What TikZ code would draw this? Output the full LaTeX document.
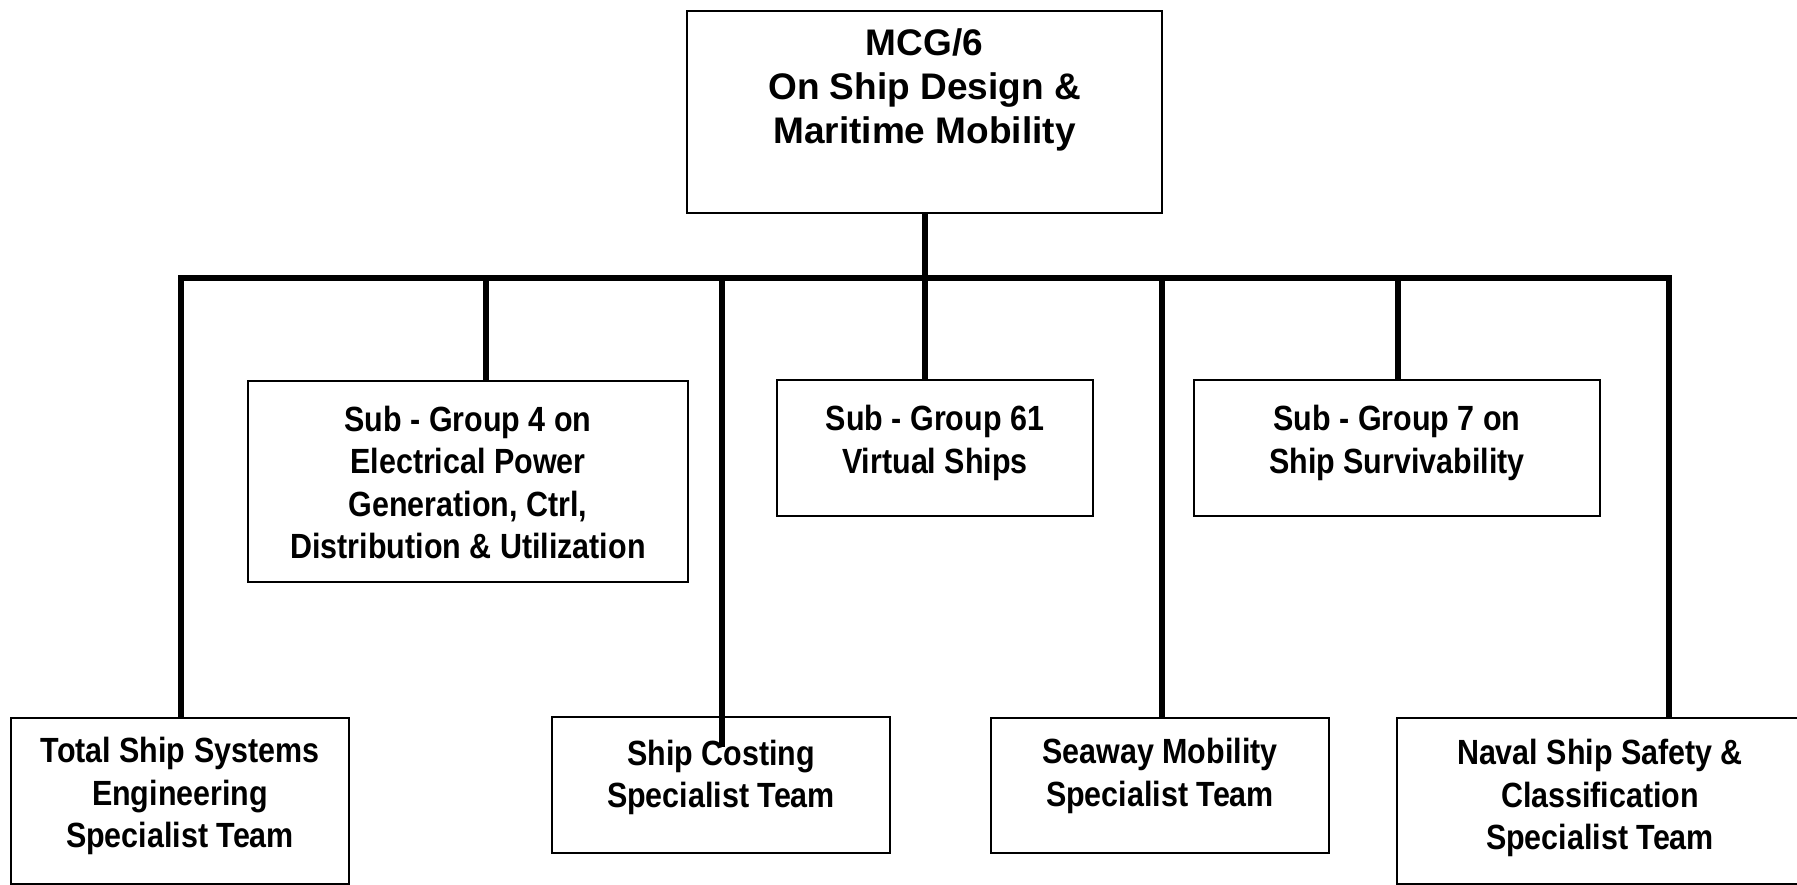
\documentclass[tikz,border=0pt]{standalone}
\usepackage{fontspec}
\setmainfont{Liberation Sans}
\newfontfamily\nbf{Liberation Sans}[FakeStretch=0.87]
\newcommand\boxtxt[4]{\parbox[c][#2][t]{#1}{\centering\vspace*{#3}\strut #4}}
\tikzset{
  box/.style={draw=black, line width=2.5pt, inner sep=0pt, outer sep=0pt},
  topfont/.style={font=\bfseries\fontsize{37}{44}\selectfont},
  subfont/.style={font=\nbf\bfseries\fontsize{35}{42.5}\selectfont},
  conn/.style={draw=black, line width=5.5pt, line join=miter},
}
\begin{document}
\begin{tikzpicture}[x=1pt, y=-1pt]
\useasboundingbox[fill=white] (0,0) rectangle (1797,885);
% boxes
\node[box, topfont] (top) at (924.5,112) {\boxtxt{475pt}{202pt}{14.2pt}{MCG/6\\On Ship Design \&\\Maritime Mobility}};
\node[box, subfont] (sg4) at (468,481.5) {\boxtxt{440pt}{201pt}{20.25pt}{Sub - Group 4 on\\Electrical Power\\Generation, Ctrl,\\Distribution \& Utilization}};
\node[box, subfont] (sg61) at (935,448) {\boxtxt{316pt}{136pt}{21pt}{Sub - Group 61\\Virtual Ships}};
\node[box, subfont] (sg7) at (1397,448) {\boxtxt{406pt}{136pt}{21pt}{Sub - Group 7 on\\Ship Survivability}};
\node[box, subfont] (tss) at (180,801) {\boxtxt{338pt}{166pt}{15pt}{Total Ship Systems\\Engineering\\Specialist Team}};
\node[box, subfont] (cost) at (721,785) {\boxtxt{338pt}{136pt}{18.5pt}{Ship Costing\\Specialist Team}};
\node[box, subfont] (sea) at (1160,785.5) {\boxtxt{338pt}{135pt}{16pt}{Seaway Mobility\\Specialist Team}};
\node[box, subfont] (nav) at (1600,801) {\boxtxt{406pt}{166pt}{17pt}{Naval Ship Safety \&\\Classification\\Specialist Team}};
% bus junctions
\coordinate (jL) at (181,278);
\coordinate (j4) at (486,278);
\coordinate (jc) at (722,278);
\coordinate (jt) at (925,278);
\coordinate (js) at (1162,278);
\coordinate (j7) at (1398,278);
\coordinate (jR) at (1669,278);
\coordinate (costend) at (722,747);
% connectors
\draw[conn] (jL |- tss.north) -- (jL) -- (jR) -- (jR |- nav.north);
\draw[conn] (top.south -| jt) -- (jt);
\draw[conn] (j4) -- (j4 |- sg4.north);
\draw[conn] (jc) -- (costend);
\draw[conn] (jt) -- (jt |- sg61.north);
\draw[conn] (js) -- (js |- sea.north);
\draw[conn] (j7) -- (j7 |- sg7.north);
\end{tikzpicture}
\end{document}
